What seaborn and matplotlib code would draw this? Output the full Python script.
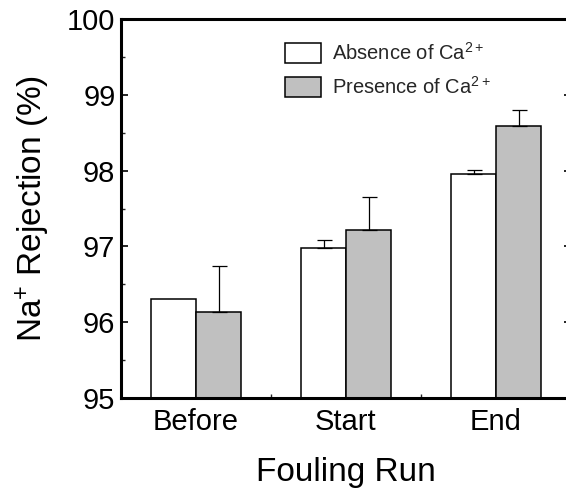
import numpy as np
import pandas as pd
import matplotlib
matplotlib.use("Agg")
import matplotlib.pyplot as plt
from matplotlib.ticker import MultipleLocator, FixedLocator
import seaborn as sns

runs = ["Before", "Start", "End"]
conditions = ["Absence of Ca$^{2+}$", "Presence of Ca$^{2+}$"]
absence_vals = [96.30, 96.98, 97.96]
presence_vals = [96.14, 97.22, 98.59]
absence_err = [0.0, 0.11, 0.05]
presence_err = [0.60, 0.43, 0.21]

sns.set_theme(style="ticks")
plt.rcParams["font.family"] = ["Liberation Sans", "DejaVu Sans"]
plt.rcParams["mathtext.fontset"] = "custom"
plt.rcParams["mathtext.rm"] = "Liberation Sans"
plt.rcParams["mathtext.it"] = "Liberation Sans"
plt.rcParams["mathtext.default"] = "regular"

df = pd.DataFrame({
    "run": runs * 2,
    "condition": [conditions[0]] * 3 + [conditions[1]] * 3,
    "value": absence_vals + presence_vals,
})

fig = plt.figure(figsize=(5.66, 4.98), dpi=100)
ax = fig.add_axes([121 / 566, 100 / 498, 450 / 566, 379 / 498])

sns.barplot(data=df, x="run", y="value", hue="condition", order=runs,
            hue_order=conditions, palette=["white", "#c0c0c0"],
            edgecolor="black", linewidth=1.1, width=0.6, errorbar=None,
            ax=ax, legend=True)

errs = [absence_err, presence_err]
for cont, err in zip(ax.containers, errs):
    for bar, e in zip(cont, err):
        if e <= 0:
            continue
        xc = bar.get_x() + bar.get_width() / 2
        ax.errorbar([xc], [bar.get_height()], yerr=[[0], [e]], fmt="none",
                    ecolor="black", elinewidth=0.9, capsize=5.4,
                    capthick=0.9, zorder=1)

ax.set_ylim(95, 100)
ax.set_xlim(-0.5, 2.5)
ax.yaxis.set_major_locator(MultipleLocator(1))
ax.yaxis.set_minor_locator(MultipleLocator(0.5))
ax.xaxis.set_minor_locator(FixedLocator([0.5, 1.5]))

for s in ax.spines.values():
    s.set_linewidth(2.2)
    s.set_color("black")
    s.set_visible(True)

ax.tick_params(axis="y", which="major", direction="in", length=5, width=1.2,
               labelsize=21, pad=4, right=True, left=True, colors="black")
ax.tick_params(axis="y", which="minor", direction="in", length=3, width=1.0,
               right=True, left=True)
ax.tick_params(axis="x", which="major", length=0, labelsize=21, pad=7,
               colors="black")
ax.tick_params(axis="x", which="minor", direction="in", length=3, width=1.0,
               bottom=True, top=False)

ax.set_xlabel("Fouling Run", fontsize=24, labelpad=15, color="black")
ax.set_ylabel("Na$^{+}$ Rejection (%)", fontsize=24, labelpad=11, color="black")

handles, labels = ax.get_legend_handles_labels()
ax.legend(handles, labels, loc="upper left",
          bbox_to_anchor=(285 / 566, 1 - 42 / 498), bbox_transform=fig.transFigure,
          frameon=False, fontsize=14.5, handlelength=1.8, handleheight=1.1,
          handletextpad=0.55, labelspacing=0.6, borderpad=0, borderaxespad=0,
          title=None)

fig.savefig("out.png", dpi=100)
